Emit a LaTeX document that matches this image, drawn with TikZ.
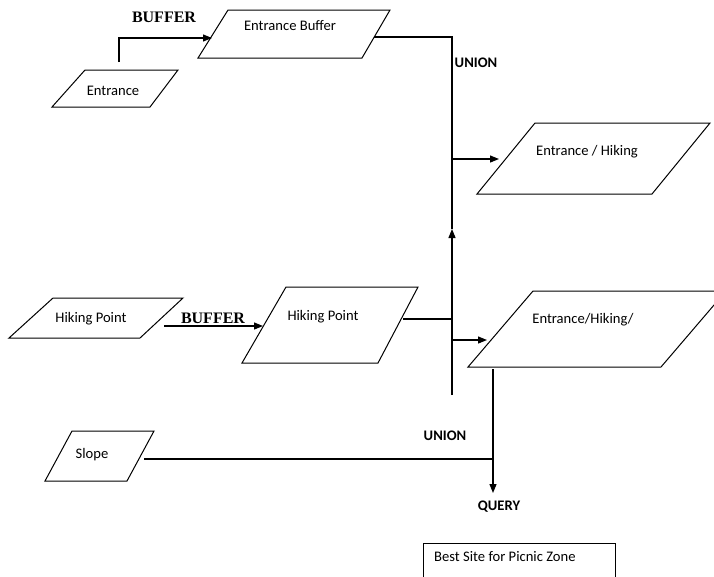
\documentclass[tikz,border=0pt]{standalone}
\usepackage{fontspec}
\setmainfont{Carlito}
\newfontfamily\timesfont{Liberation Serif}
\usetikzlibrary{arrows.meta}
\begin{document}
\begin{tikzpicture}[x=1pt,y=-1pt,
  shapeline/.style={draw=black,line width=1pt},
  conn/.style={draw=black,line width=1.2pt},
  arr/.style={conn,-{Triangle[length=9pt,width=7pt]}},
  lbl/.style={font=\fontsize{14.6}{16}\selectfont,inner sep=0pt},
  oplbl/.style={font=\fontsize{14.6}{16}\selectfont\bfseries,inner sep=0pt},
  buflbl/.style={font=\timesfont\fontsize{16}{18}\selectfont\bfseries,inner sep=0pt}]
\useasboundingbox (0,0) rectangle (714,576);
\clip (0,0) rectangle (714,576);
% shapes
\draw[shapeline] (52,107) -- (85,70) -- (178,70) -- (150,107) -- cycle;
\node[lbl] (entrance) at (113,91) {Entrance};
\draw[shapeline] (198,58) -- (228,10) -- (390,10) -- (362,58) -- cycle;
\node[lbl] (ebuf) at (290,26) {Entrance Buffer};
\draw[shapeline] (477,194) -- (535,123) -- (710,123) -- (652,194) -- cycle;
\node[lbl] (eh) at (587,152) {Entrance / Hiking};
\draw[shapeline] (9,338) -- (53,298) -- (183,298) -- (140,338) -- cycle;
\node[lbl] (hp) at (91,319) {Hiking Point};
\draw[shapeline] (242,363) -- (286,287) -- (418,287) -- (378,363) -- cycle;
\node[lbl] (hpb) at (323,317) {Hiking Point};
\draw[shapeline] (468,367) -- (533,291) -- (726,291) -- (661,367) -- cycle;
\node[lbl] (ehs) at (583,320) {Entrance/Hiking/};
\draw[shapeline] (45,481) -- (72,431) -- (154,431) -- (127,481) -- cycle;
\node[lbl] (slope) at (92,455) {Slope};
\draw[shapeline] (423,543) rectangle (615,600);
\node[lbl,anchor=west] (best) at (434,557) {Best Site for Picnic Zone};
% labels
\node[buflbl] (buf1) at (164,17) {BUFFER};
\node[buflbl] (buf2) at (213,318) {BUFFER};
\node[oplbl] (union1) at (476,63) {UNION};
\node[oplbl] (union2) at (445,436) {UNION};
\node[oplbl] (query) at (499,507) {QUERY};
% connector coordinates
\coordinate (entTop) at (119,62);
\coordinate (ebufIn) at (212,38);
\coordinate (ebufOut) at (374,37);
\coordinate (trunkTop) at (452,37);
\coordinate (trunkMid) at (452,229);
\coordinate (trunkBot) at (452,395);
\coordinate (ehIn) at (499,159);
\coordinate (ehFrom) at (452,159);
\coordinate (hpOut) at (164,326);
\coordinate (hpbIn) at (263,326);
\coordinate (hpbOut) at (403,319);
\coordinate (ehsFrom) at (452,340);
\coordinate (ehsIn) at (487,340);
\coordinate (ehsOut) at (493,369);
\coordinate (slopeOut) at (144,459);
\coordinate (queryIn) at (493,493);
% connectors
\draw[arr] (entTop) |- (ebufIn);
\draw[conn] (ebufOut) -- (trunkTop) -- (trunkMid);
\draw[arr] (trunkBot) -- (trunkMid);
\draw[arr] (ehFrom) -- (ehIn);
\draw[arr] (hpOut) -- (hpbIn);
\draw[conn] (hpbOut) -- (hpbOut -| trunkBot);
\draw[arr] (ehsFrom) -- (ehsIn);
\draw[arr] (ehsOut) -- (queryIn);
\draw[conn] (slopeOut) -- (slopeOut -| ehsOut);
\end{tikzpicture}
\end{document}
